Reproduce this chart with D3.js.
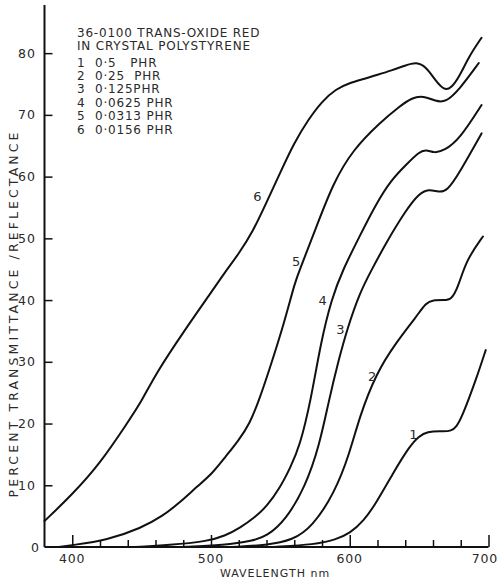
<html>
<script src='https://d3js.org/d3.v7.min.js'></script>
<style>
  body { margin: 0; background: #fff; }
  text { font-family: 'DejaVu Sans', sans-serif; fill: #2a2a2a; }
</style>
<body>
<svg class="chart" width=499 height=579></svg>
<script>

// curves: [wavelength nm, percent]
var curve1 = [[545,0],[575,0.4],[590,1.2],[600,2.2],[610,4.2],[619,7.1],[631,11.9],[643,16.3],[650,18],[656,18.7],
              [665,18.8],[673,18.7],[677,19.5],[681,21.1],[691,27.1],[698,31.9]];
var curve2 = [[515,0],[540,0.3],[559,1.1],[573,3.3],[589,8.7],[600,15.2],[607,21.1],[619,28.1],[633,33],[648,37.3],
              [655,39.6],[660,40],[668,40],[673,40],[678,42],[684,46.5],[696,50.3]];
var curve3 = [[478,0],[510,0.3],[530,1],[540,1.7],[554,4.4],[568,9.8],[578,16.3],[585,23.8],[592,30.3],[598,35.2],
              [607,41.1],[616,45],[626,49.2],[640,54.4],[650,57.3],[657,58],[664,57.5],[670,57.6],[679,60.6],[695,67]];
var curve4 = [[445,0],[470,0.3],[497,0.9],[510,1.8],[521,3.1],[532,4.9],[540,6.5],[550,9.7],[557,12.8],[564,16.3],
              [572,23.8],[579,33],[587,40.3],[595,44.9],[607,50.3],[619,55.6],[630,59.5],[641,62],[650,64],[655,64.4],
              [661,63.8],[668,64.2],[679,66],[695,71.6]];
var curve5 = [[390,0],[400,0.3],[425,1.1],[450,3.1],[465,5],[477,7.1],[490,9.8],[501,11.9],[510,14.5],[520,17.3],
              [528,20],[535,24],[542,28.7],[552,35.7],[561,43.3],[564,44.9],[576,51.9],[588,58.9],[602,64.3],[622,68.8],
              [636,71.4],[645,72.8],[653,73.1],[662,72.2],[669,72],[679,74.1],[693,78.4]];
var curve6 = [[380,4.2],[400,8.5],[420,13.5],[440,20.2],[450,23.6],[460,28],[480,34.8],[500,41.2],[510,44.5],[520,47.5],
              [530,51],[540,55.8],[550,60.7],[560,65.5],[570,69.2],[580,72.2],[590,74.2],[600,75.2],[610,75.8],[620,76.5],
              [630,77.2],[640,78],[648,78.6],[655,77.8],[662,75.5],[668,74],[673,74.3],[679,76.2],[686,79.5],[695,82.5]];

var curveNames = ["1","2","3","4","5","6"];
var labelAt = [[645.9,18.2],[616.2,27.6],[593.3,35.2],[580.4,40.0],[561.4,46.2],[533.5,56.7]];

var legendTitle = ["36-0100 TRANS-OXIDE RED", "IN CRYSTAL POLYSTYRENE"];
var legendConc = ["0·5   PHR", "0·25  PHR", "0·125PHR", "0·0625 PHR", "0·0313 PHR", "0·0156 PHR"];

var yTicks = [0,10,20,30,40,50,60,70,80];
var xTicks = [400,420,440,460,480,500,520,540,560,580,600,620,640,660,680,700];
var xLabels = [400,500,600,700];

var x = d3.scaleLinear().domain([380,700]).range([44.5,488.5]);
var y = d3.scaleLinear().domain([0,87.8]).range([547,5]);

var svg = d3.select(".chart");

// y axis: ticks point into the plot, labels left
var gy = svg.append("g").attr("transform","translate(" + x(380) + ",0)")
  .call(d3.axisRight(y).tickValues(yTicks.filter(function(d){ return d > 0; })).tickSize(8).tickFormat(""));
gy.select(".domain").attr("d","M0," + y(87.8) + "V" + y(0)).attr("stroke","#111").attr("stroke-width",2);
gy.selectAll(".tick line").attr("stroke","#111").attr("stroke-width",1.5);

svg.append("g").selectAll("text").data(yTicks).enter().append("text")
  .attr("x", function(d){ return d == 0 ? 40 : 36; })
  .attr("y", function(d){ return y(d) + 4.5; })
  .attr("text-anchor","end")
  .attr("font-size",12.5)
  .attr("letter-spacing",1)
  .text(function(d){ return d; });

// x axis: ticks point up
var gx = svg.append("g").attr("transform","translate(0," + y(0) + ")")
  .call(d3.axisTop(x).tickValues(xTicks).tickSize(7).tickFormat(""));
gx.select(".domain").attr("d","M" + x(380) + ",0H" + x(700)).attr("stroke","#111").attr("stroke-width",2);
gx.selectAll(".tick line").attr("stroke","#111").attr("stroke-width",1.5)
  .attr("y2", function(d){ return d % 100 == 0 ? -12 : -7; });

svg.append("g").selectAll("text").data(xLabels).enter().append("text")
  .attr("x", function(d){ return d == 700 ? 498 : x(d); })
  .attr("y", 562.5)
  .attr("text-anchor", function(d){ return d == 700 ? "end" : "middle"; })
  .attr("font-size",12.5)
  .attr("letter-spacing",0.8)
  .text(function(d){ return d; });

svg.append("text").attr("x",275).attr("y",577).attr("text-anchor","middle")
  .attr("font-size",11).attr("letter-spacing",1).text("WAVELENGTH nm");

svg.append("text")
  .attr("transform","translate(18,315) rotate(-90)")
  .attr("text-anchor","middle")
  .attr("font-size",12.5)
  .attr("textLength",365).attr("lengthAdjust","spacing")
  .text("PERCENT TRANSMITTANCE /REFLECTANCE");

// the six curves
var line = d3.line().curve(d3.curveBasis)
  .x(function(d){ return x(d[0]); })
  .y(function(d){ return y(d[1]); });

[curve1,curve2,curve3,curve4,curve5,curve6].forEach(function(c){
  svg.append("path").datum(c)
    .attr("fill","none").attr("stroke","#111").attr("stroke-width",2)
    .attr("stroke-linejoin","round").attr("stroke-linecap","round")
    .attr("d", line);
});

svg.append("g").selectAll("text").data(labelAt).enter().append("text")
  .attr("x", function(d){ return x(d[0]); })
  .attr("y", function(d){ return y(d[1]) + 4.5; })
  .attr("text-anchor","middle")
  .attr("font-size",13)
  .text(function(d,i){ return curveNames[i]; });

// legend text
svg.append("g").selectAll("text").data(legendTitle).enter().append("text")
  .attr("x",77).attr("y", function(d,i){ return 36.5 + i*13; })
  .attr("font-size",12).attr("letter-spacing",0.8)
  .text(function(d){ return d; });

var leg = svg.append("g").selectAll("g").data(legendConc).enter().append("g");
leg.append("text").attr("x",77).attr("y", function(d,i){ return 66.5 + i*13.4; })
  .attr("font-size",12).text(function(d,i){ return curveNames[i]; });
leg.append("text").attr("x",95).attr("y", function(d,i){ return 66.5 + i*13.4; })
  .attr("font-size",12).attr("letter-spacing",0.8).style("white-space","pre")
  .text(function(d){ return d; });

</script>
</body>
</html>
